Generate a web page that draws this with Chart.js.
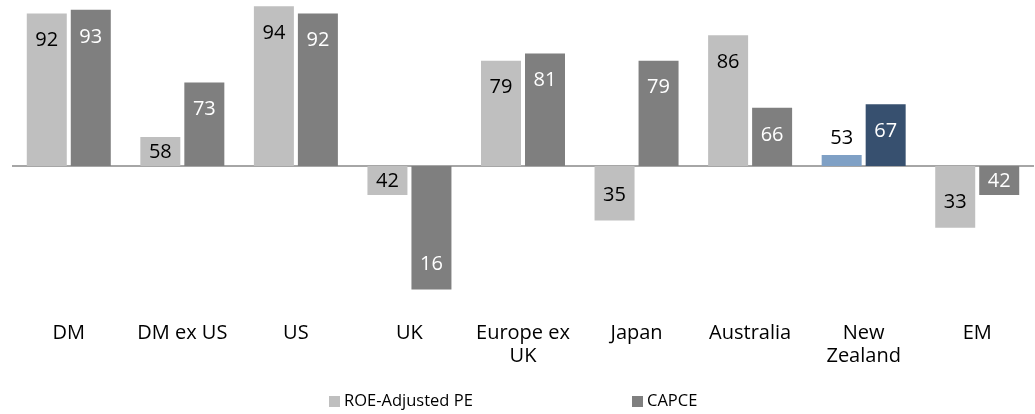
<!DOCTYPE html>
<html>
<head>
<meta charset="utf-8">
<script src="https://cdn.jsdelivr.net/npm/chart.js@4/dist/chart.umd.min.js"></script>
<style>
  html, body { margin: 0; padding: 0; background: #fff; }
  #wrap { position: relative; width: 1035px; height: 414px; }
  #legend { position: absolute; top: 389px; left: 0; width: 1035px; height: 22px; font-family: "Open Sans", sans-serif; font-size: 16.5px; color: #000; }
  .item { position: absolute; top: 0; line-height: 22px; white-space: nowrap; }
  .box { display: inline-block; width: 11px; height: 11px; margin-right: 4px; vertical-align: -1px; }
</style>
</head>
<body>
<div id="wrap">
  <canvas id="myChart" width="1035" height="414"></canvas>
  <div id="legend"></div>
</div>
<script>
// percentiles, bars start at the 50 line
var categories = ['DM', 'DM ex US', 'US', 'UK', ['Europe ex', 'UK'], 'Japan', 'Australia', ['New', 'Zealand'], 'EM'];
var roePE = [92, 58, 94, 42, 79, 35, 86, 53, 33];
var capce = [93, 73, 92, 16, 81, 79, 66, 67, 42];
var seriesNames = ['ROE-Adjusted PE', 'CAPCE'];
var baseline = 50;

var lightColors = ['#BFBFBF', '#BFBFBF', '#BFBFBF', '#BFBFBF', '#BFBFBF', '#BFBFBF', '#BFBFBF', '#7FA0C5', '#BFBFBF'];
var darkColors = ['#7F7F7F', '#7F7F7F', '#7F7F7F', '#7F7F7F', '#7F7F7F', '#7F7F7F', '#7F7F7F', '#37506F', '#7F7F7F'];

function floating(arr) {
  return arr.map(function (v) { return [baseline, v]; });
}

var valueLabels = {
  id: 'valueLabels',
  afterDatasetsDraw: function (chart) {
    var ctx = chart.ctx;
    var yScale = chart.scales.y;
    ctx.save();
    ctx.font = '20px "Open Sans"';
    ctx.textAlign = 'center';
    ctx.textBaseline = 'middle';
    chart.data.datasets.forEach(function (ds, i) {
      var meta = chart.getDatasetMeta(i);
      var vals = i == 0 ? roePE : capce;
      meta.data.forEach(function (bar, j) {
        var v = vals[j];
        var end = yScale.getPixelForValue(v);
        var base = yScale.getPixelForValue(baseline);
        var h = Math.abs(base - end);
        var dir = v >= baseline ? 1 : -1;
        var y, color;
        if (h < 20) {
          y = end - dir * 18;
          color = '#000';
        } else {
          y = end + dir * Math.min(26, h / 2);
          color = i == 0 ? '#000' : '#fff';
        }
        ctx.fillStyle = color;
        ctx.fillText(String(v), bar.x, y + 1);
      });
    });
    ctx.restore();
  }
};

var ctx = document.getElementById('myChart').getContext('2d');
var myChart = new Chart(ctx, {
  type: 'bar',
  data: {
    labels: categories,
    datasets: [{
      label: seriesNames[0],
      data: floating(roePE),
      backgroundColor: lightColors,
      borderWidth: 0
    }, {
      label: seriesNames[1],
      data: floating(capce),
      backgroundColor: darkColors,
      borderWidth: 0
    }]
  },
  options: {
    responsive: false,
    animation: false,
    layout: { padding: { left: 12, right: 1, top: 0, bottom: 34 } },
    categoryPercentage: 0.775,
    barPercentage: 0.909,
    plugins: {
      legend: { display: false },
      tooltip: { enabled: false }
    },
    scales: {
      x: {
        grid: { display: false },
        border: { display: false },
        ticks: {
          color: '#000',
          font: { family: 'Open Sans', size: 20, lineHeight: 1.15 },
          padding: 14,
          maxRotation: 0,
          autoSkip: false
        },
        afterFit: function (scale) { scale.height = 80; }
      },
      y: {
        min: 13.1,
        max: 95.7,
        display: true,
        border: { display: false },
        grid: { color: '#A6A6A6', lineWidth: 2, drawTicks: false },
        ticks: { display: false },
        afterBuildTicks: function (scale) { scale.ticks = [{ value: baseline }]; },
        afterFit: function (scale) { scale.width = 0; }
      }
    }
  },
  plugins: [valueLabels]
});

// legend, positioned like the original
var legendEl = document.getElementById('legend');
var legendX = [329, 632];
var legendColors = ['#BFBFBF', '#7F7F7F'];
seriesNames.forEach(function (name, i) {
  var d = document.createElement('div');
  d.className = 'item';
  d.style.left = legendX[i] + 'px';
  d.innerHTML = '<span class="box" style="background:' + legendColors[i] + '"></span>' + name;
  legendEl.appendChild(d);
});
</script>
</body>
</html>
